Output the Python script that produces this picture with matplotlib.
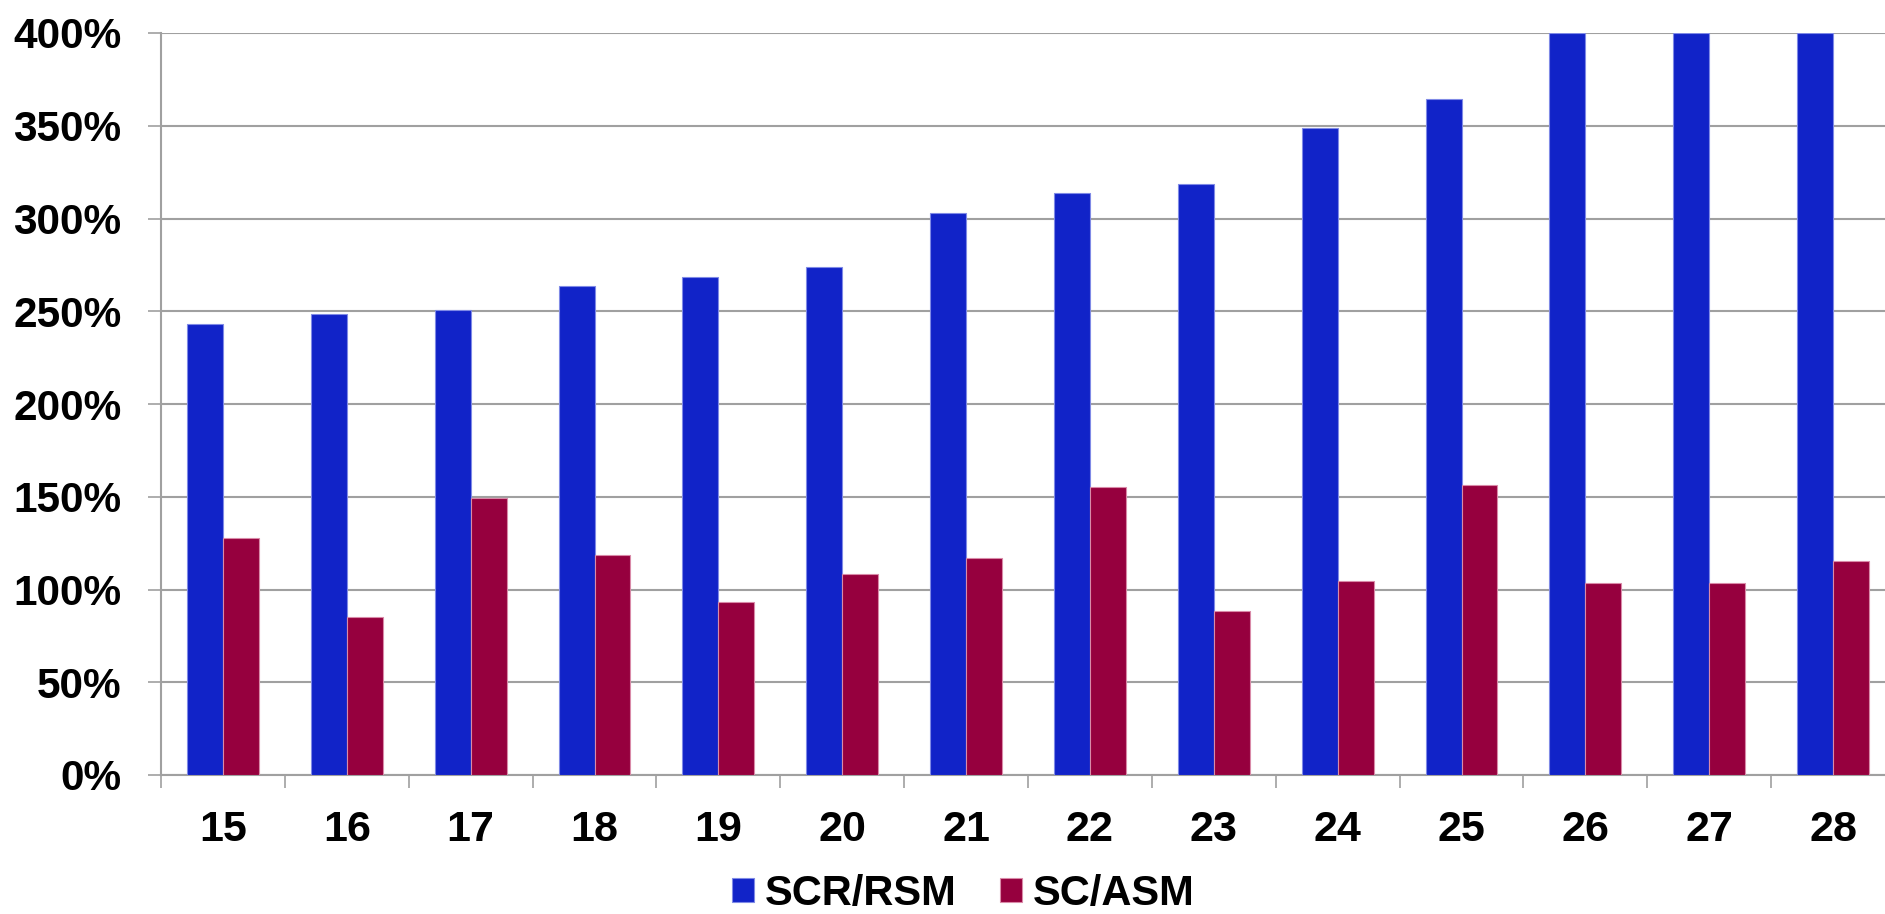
import matplotlib
matplotlib.use("Agg")
import matplotlib.pyplot as plt
import numpy as np
from matplotlib.patches import Patch
from matplotlib.ticker import FixedLocator, FuncFormatter

plt.rcParams['font.family'] = ['Liberation Sans', 'DejaVu Sans']

# Data
categories = ["15", "16", "17", "18", "19", "20", "21", "22", "23", "24", "25", "26", "27", "28"]
scr_rsm = [243.1, 248.5, 250.5, 263.8, 268.6, 273.9, 303.1, 313.9, 318.8, 348.6, 364.4, 400, 400, 400]
sc_asm = [127.8, 85.2, 149.2, 118.8, 93.1, 108.4, 117.0, 155.4, 88.2, 104.4, 156.2, 103.5, 103.5, 115.4]
y_ticks = [0, 50, 100, 150, 200, 250, 300, 350, 400]
series_names = ["SCR/RSM", "SC/ASM"]

BLUE = "#1123c8"
RED = "#96003e"
GRID = "#a0a0a0"

W, H = 1885, 914
fig = plt.figure(figsize=(W / 100, H / 100), dpi=100)
# axes runs slightly past the right edge of the figure
ax = fig.add_axes([161 / W, 139 / H, 1734 / W, 742 / H])

x = np.arange(len(categories))
bw = 0.29
ax.bar(x - bw / 2, scr_rsm, width=bw, color=BLUE, edgecolor="#7f8ae6", linewidth=0.8, zorder=3)
ax.bar(x + bw / 2, sc_asm, width=bw, color=RED, edgecolor="#d98aa8", linewidth=0.8, zorder=3)

ax.set_xlim(-0.5, len(categories) - 0.5)
ax.set_ylim(0, 400)

ax.yaxis.set_major_locator(FixedLocator(y_ticks))
ax.yaxis.set_major_formatter(FuncFormatter(lambda v, p: f"{int(v)}%"))
ax.grid(axis="y", color=GRID, linewidth=1.5, zorder=0)
ax.set_axisbelow(True)

ax.set_xticks(x)
ax.set_xticklabels(categories)
ax.set_xticks(np.arange(len(categories) + 1) - 0.5, minor=True)

for s in ["top", "right"]:
    ax.spines[s].set_visible(False)
for s in ["left", "bottom"]:
    ax.spines[s].set_color(GRID)
    ax.spines[s].set_linewidth(1.5)

ax.tick_params(axis="y", which="major", length=9.5, width=1.2, color=GRID,
               pad=19, labelsize=30.5, labelcolor="black")
ax.tick_params(axis="x", which="major", length=0, pad=25, labelsize=31, labelcolor="black")
ax.tick_params(axis="x", which="minor", length=9.5, width=1.2, color=GRID)
for lbl in ax.get_xticklabels() + ax.get_yticklabels():
    lbl.set_fontweight("bold")

handles = [Patch(facecolor=BLUE, edgecolor="#7f8ae6", linewidth=0.8),
           Patch(facecolor=RED, edgecolor="#d98aa8", linewidth=0.8)]
fig.legend(handles, series_names, loc="center", bbox_to_anchor=(0.511, 0.022),
           ncol=2, frameon=False, prop={"weight": "bold", "size": 30},
           handlelength=0.53, handleheight=0.5, handletextpad=0.26,
           columnspacing=1.05, borderpad=0)

fig.savefig("out.png", dpi=100, facecolor="white")
